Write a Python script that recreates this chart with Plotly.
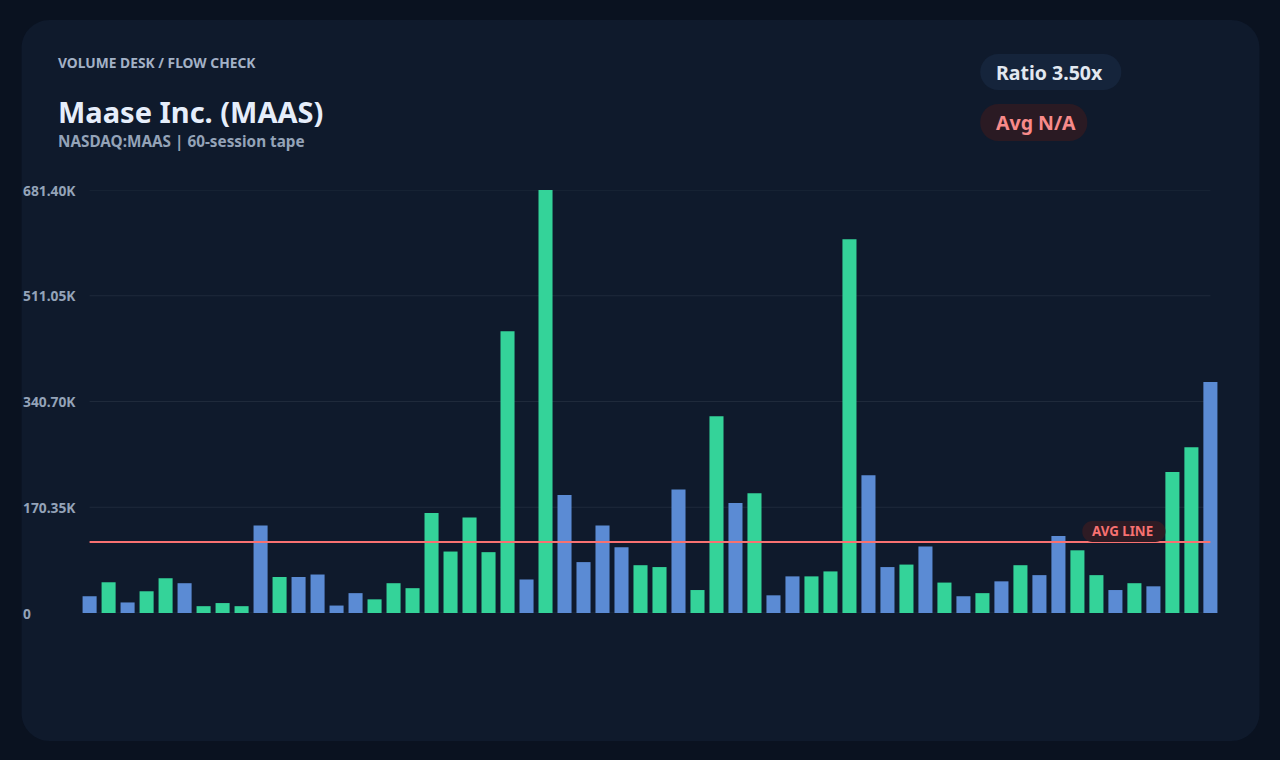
import plotly.graph_objects as go

W, H = 1280, 760

# daily volume, 60 sessions
VOLUMES = [
    27000, 49500, 17000, 35000, 56000, 48000, 11000, 16000, 11000, 141000,
    58000, 58000, 62000, 12000, 32000, 22000, 48000, 40000, 161000, 99000,
    154000, 98000, 454000, 54000, 681400, 190000, 82000, 141000, 106000, 77000,
    74000, 199000, 37000, 317000, 177000, 193000, 28500, 59000, 59000, 67000,
    602000, 222000, 74000, 78000, 107000, 49000, 27000, 32000, 51000, 77000,
    61000, 124000, 101000, 61000, 37000, 48000, 43000, 227000, 267000, 372000,
]
# session direction: u = up day (green), d = down day (blue)
DIRECTION = list(
    "duduu" "duuud" "udddd" "uuuuu" "uuudu" "ddddu"
    "uduud" "udduu" "uddud" "ududu" "dduud" "uduud"
)
AVG_VALUE = 114400
Y_TICKS = [0, 170350, 340700, 511050, 681400]
Y_LABELS = ["0", "170.35K", "340.70K", "511.05K", "681.40K"]

KICKER = "VOLUME DESK / FLOW CHECK"
TITLE = "Maase Inc. (MAAS)"
SUBTITLE = "NASDAQ:MAAS | 60-session tape"
RATIO_TEXT = "Ratio 3.50x"
AVG_TEXT = "Avg N/A"

OUTER_BG = "#0a1220"
CARD_BG = "#0f1a2c"
GREEN = "#34d399"
BLUE = "#5b8bd4"
RED = "#f87171"
MUTED = "#94a3b8"
FONT = "Noto Sans"

# plot area in pixels
PL, PR, PT, PB = 82.4, 1217.6, 190, 613


def px(x):
    return (x - PL) / (PR - PL)


def py(y):
    return (PB - y) / (PB - PT)


def rounded(x0, y0, x1, y1, r):
    # rounded rect path (pixel coords -> paper coords)
    k = 0.5523 * r
    pts = [
        ("M", [(x0 + r, y0)]),
        ("L", [(x1 - r, y0)]),
        ("C", [(x1 - r + k, y0), (x1, y0 + r - k), (x1, y0 + r)]),
        ("L", [(x1, y1 - r)]),
        ("C", [(x1, y1 - r + k), (x1 - r + k, y1), (x1 - r, y1)]),
        ("L", [(x0 + r, y1)]),
        ("C", [(x0 + r - k, y1), (x0, y1 - r + k), (x0, y1 - r)]),
        ("L", [(x0, y0 + r)]),
        ("C", [(x0, y0 + r - k), (x0 + r - k, y0), (x0 + r, y0)]),
    ]
    out = ""
    for cmd, ps in pts:
        out += cmd + " " + " ".join(f"{px(a):.5f},{py(b):.5f}" for a, b in ps) + " "
    return out + "Z"


x = list(range(len(VOLUMES)))
colors = [GREEN if d == "u" else BLUE for d in DIRECTION]

fig = go.Figure()
fig.add_trace(go.Bar(
    x=x, y=VOLUMES, marker=dict(color=colors, line=dict(width=0)),
    width=0.74, hoverinfo="y", showlegend=False,
))

shapes = [
    dict(type="path", path=rounded(22, 20, 1259, 741, 28), xref="paper", yref="paper",
         fillcolor=CARD_BG, line=dict(width=0), layer="below"),
]
for v in Y_TICKS:
    shapes.append(dict(type="line", xref="x", yref="y", x0=0, x1=len(VOLUMES) - 1,
                       y0=v, y1=v, line=dict(color="#1f2a3b", width=1), layer="below"))
shapes.append(dict(type="line", xref="x", yref="y", x0=0, x1=len(VOLUMES) - 1,
                   y0=AVG_VALUE, y1=AVG_VALUE, line=dict(color=RED, width=2)))
# pills
shapes.append(dict(type="path", path=rounded(980, 54, 1121, 90, 18), xref="paper", yref="paper",
                   fillcolor="#15243b", line=dict(width=0)))
shapes.append(dict(type="path", path=rounded(980, 104, 1087, 141, 18), xref="paper", yref="paper",
                   fillcolor="#2a1a23", line=dict(width=0)))
shapes.append(dict(type="path", path=rounded(1082, 521, 1165, 542, 10), xref="paper", yref="paper",
                   fillcolor="#2e1b24", line=dict(width=0)))

annotations = []
for v, lab in zip(Y_TICKS, Y_LABELS):
    annotations.append(dict(x=px(21), y=v, xref="paper", yref="y", text=lab, showarrow=False,
                            xanchor="left", yanchor="middle",
                            font=dict(family=FONT, size=13.8, color=MUTED, weight="bold")))

annotations += [
    dict(x=px(56), y=py(63), text=KICKER, font=dict(size=13.8, color="#a3b1c6", weight="bold")),
    dict(x=px(56), y=py(112), text=TITLE, font=dict(size=29, color="#e6eefb", weight="bold")),
    dict(x=px(56), y=py(141), text=SUBTITLE, font=dict(size=15.3, color=MUTED, weight="bold")),
    dict(x=px(994), y=py(72), text=RATIO_TEXT, font=dict(size=19.5, color="#e2e8f0", weight="bold")),
    dict(x=px(994), y=py(122), text=AVG_TEXT, font=dict(size=19.5, color="#f88a8a", weight="bold")),
    dict(x=px(1090), y=py(531), text="AVG LINE", font=dict(size=13.3, color=RED, weight="bold")),
]
for a in annotations[len(Y_TICKS):]:
    a.update(xref="paper", yref="paper", showarrow=False, xanchor="left", yanchor="middle")
    a["font"]["family"] = FONT

fig.update_layout(
    width=W, height=H,
    margin=dict(l=PL, r=W - PR, t=PT, b=H - PB, pad=0),
    paper_bgcolor=OUTER_BG, plot_bgcolor="rgba(0,0,0,0)",
    xaxis=dict(range=[-0.4, len(VOLUMES) - 0.6], visible=False, fixedrange=True),
    yaxis=dict(range=[0, Y_TICKS[-1]], showgrid=False, zeroline=False, showticklabels=False,
               fixedrange=True),
    bargap=0.26,
    shapes=shapes,
    annotations=annotations,
    font=dict(family=FONT),
)

# drop the default 8px page margin so the figure sits at the window origin
fig.write_html("out.html", config={"displayModeBar": False},
               post_script="document.body.style.margin='0';")
